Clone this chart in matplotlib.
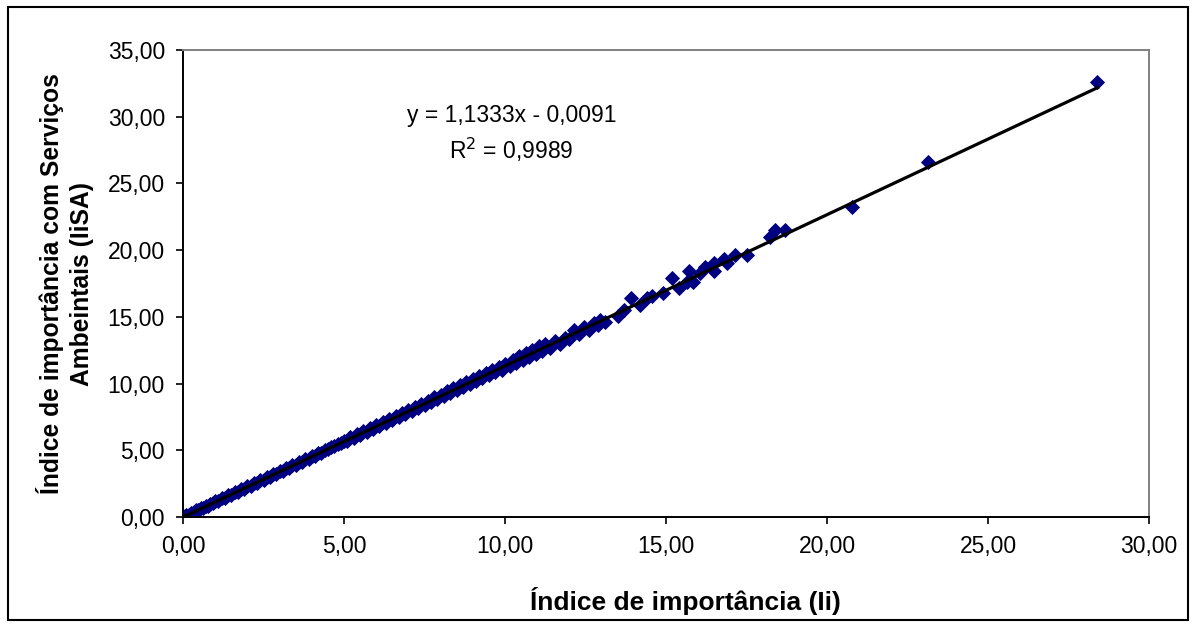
import matplotlib
matplotlib.use('Agg')
import matplotlib.pyplot as plt
from matplotlib.ticker import FuncFormatter, MultipleLocator
from matplotlib.patches import Rectangle

plt.rcParams['font.family'] = ['Liberation Sans', 'DejaVu Sans']

# Índice de importância (Ii) vs Índice com Serviços Ambientais (IiSA)
ii = [0.00, 0.05, 0.10, 0.18, 0.25, 0.33, 0.40, 0.48, 0.55, 0.63, 0.70, 0.78, 0.85, 0.93,
      1.00, 1.10, 1.20, 1.30, 1.40, 1.50, 1.60, 1.70, 1.80, 1.90, 2.00, 2.10, 2.20, 2.30,
      2.40, 2.50, 2.60, 2.70, 2.80, 2.90, 3.00, 3.10, 3.20, 3.30, 3.40, 3.50, 3.60, 3.70,
      3.80, 3.90, 4.00, 4.10, 4.20, 4.30, 4.40, 4.50, 4.60, 4.70, 4.80, 4.90, 5.00,
      5.10, 5.20, 5.30, 5.40, 5.50, 5.60, 5.70, 5.80, 5.90, 6.00, 6.10, 6.20, 6.30, 6.40,
      6.50, 6.60, 6.70, 6.80, 6.90, 7.00, 7.10, 7.20, 7.30, 7.40, 7.50, 7.60, 7.70, 7.80,
      7.90, 8.00, 8.10, 8.20, 8.30, 8.40, 8.50, 8.60, 8.70, 8.80, 8.90, 9.00, 9.10, 9.20,
      9.30, 9.40, 9.50, 9.60, 9.70, 9.80, 9.90, 10.00,
      10.15, 10.25, 10.35, 10.45, 10.55, 10.65, 10.75, 10.85, 10.95, 11.05, 11.15, 11.25,
      11.40, 11.55, 11.70, 11.85, 12.00, 12.15, 12.30, 12.45, 12.60, 12.75, 12.90,
      12.95, 13.10, 13.50, 13.70, 13.90, 14.20, 14.40, 14.55, 14.90, 15.20, 15.40, 15.65,
      15.70, 15.85, 16.05, 16.20, 16.50, 16.50, 16.80, 16.90, 17.15, 17.50,
      18.23, 18.40, 18.70, 20.78, 23.15, 28.40]
iisa = [0.00, 0.04, 0.13, 0.18, 0.31, 0.35, 0.49, 0.51, 0.65, 0.68, 0.83, 0.85, 1.00, 1.02,
        1.17, 1.21, 1.39, 1.43, 1.62, 1.66, 1.85, 1.89, 2.08, 2.11, 2.31, 2.34, 2.54, 2.56,
        2.76, 2.79, 2.99, 3.02, 3.22, 3.24, 3.44, 3.47, 3.67, 3.69, 3.90, 3.92, 4.13, 4.15,
        4.35, 4.38, 4.58, 4.60, 4.81, 4.83, 5.03, 5.06, 5.26, 5.29, 5.49, 5.51, 5.72,
        5.67, 6.00, 5.91, 6.23, 6.14, 6.45, 6.37, 6.67, 6.59, 6.91, 6.80, 7.13, 7.05, 7.37,
        7.26, 7.59, 7.50, 7.81, 7.72, 8.04, 7.94, 8.27, 8.16, 8.50, 8.38, 8.73, 8.61, 8.96,
        8.83, 9.18, 9.06, 9.41, 9.28, 9.64, 9.50, 9.88, 9.72, 10.11, 9.95, 10.35, 10.17, 10.57,
        10.39, 10.80, 10.61, 11.03, 10.83, 11.27, 11.05, 11.50,
        11.30, 11.80, 11.55, 12.05, 11.80, 12.30, 12.00, 12.55, 12.25, 12.80, 12.45, 13.00,
        12.70, 13.20, 13.00, 13.45, 13.35, 14.00, 13.70, 14.25, 14.00, 14.55, 14.40,
        14.80, 14.60, 15.10, 15.50, 16.40, 15.90, 16.40, 16.60, 16.80, 17.90, 17.20, 17.60,
        18.40, 17.60, 18.30, 18.70, 19.00, 18.40, 19.30, 19.00, 19.60, 19.60,
        21.00, 21.50, 21.50, 23.24, 26.60, 32.60]

# Excel linear trendline reported on the chart
slope = 1.1333
intercept = -0.0091
r2 = 0.9989

fig = plt.figure(figsize=(11.96, 6.27), dpi=100)
ax = fig.add_axes([183 / 1196, 1 - 517 / 627, 966 / 1196, 467 / 627])

ax.plot(ii, iisa, linestyle='none', marker='D', markersize=7.2,
        markerfacecolor='#000080', markeredgecolor='#000080', markeredgewidth=0.6, zorder=2)

x_fit = [0.0, max(ii)]
y_fit = [slope * v + intercept for v in x_fit]
ax.plot(x_fit, y_fit, color='black', linewidth=2.3, zorder=3)

ax.set_xlim(0, 30)
ax.set_ylim(0, 35)
ax.xaxis.set_major_locator(MultipleLocator(5))
ax.yaxis.set_major_locator(MultipleLocator(5))
fmt = FuncFormatter(lambda v, p: f'{v:.2f}'.replace('.', ','))
ax.xaxis.set_major_formatter(fmt)
ax.yaxis.set_major_formatter(fmt)
ax.tick_params(direction='out', length=5, width=1.2, labelsize=16.5, pad=8, colors='black')

for s in ['left', 'bottom']:
    ax.spines[s].set_color('black')
    ax.spines[s].set_linewidth(1.4)
for s in ['top', 'right']:
    ax.spines[s].set_color('#808080')
    ax.spines[s].set_linewidth(1.4)

ax.set_xlabel('Índice de importância (Ii)', fontsize=19, fontweight='bold')
ax.set_ylabel('Índice de importância com Serviços\nAmbeintais (IiSA)', fontsize=17.7,
              fontweight='bold', linespacing=1.3)
ax.xaxis.set_label_coords(0.52, -0.15)
ax.yaxis.set_label_coords(-0.092, 0.5)

eq = f'y = {slope:.4f}x - {abs(intercept):.4f}'.replace('.', ',')
ax.text(10.2, 30.1, eq, fontsize=16.5, ha='center', va='center')
ax.text(10.2, 27.5, f'R$^2$ = {r2:.4f}'.replace('.', ','), fontsize=16.5, ha='center', va='center')

fig.patches.append(Rectangle((8 / 1196, 7 / 627), 1180 / 1196, 613 / 627,
                             transform=fig.transFigure, fill=False,
                             edgecolor='black', linewidth=1.5))

fig.savefig('out.png', dpi=100)
